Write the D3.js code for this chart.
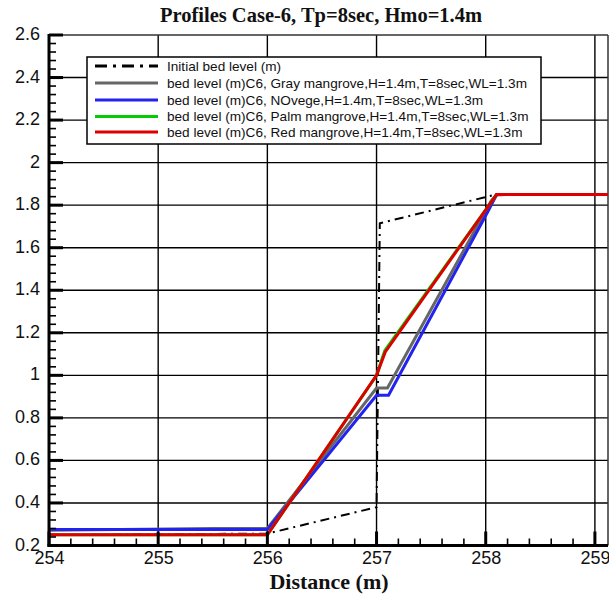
<!DOCTYPE html>
<html><head><meta charset="utf-8">
<script src="https://cdn.jsdelivr.net/npm/d3@7"></script>
<style>body{margin:0;background:#fff;}svg{display:block;}</style>
</head><body>
<svg id="c" width="609" height="594"></svg>
<script>
const title = "Profiles Case-6, Tp=8sec, Hmo=1.4m";
const xLabel = "Distance (m)";
const xTicks = [254, 255, 256, 257, 258, 259];
const yTicks = [0.2, 0.4, 0.6, 0.8, 1, 1.2, 1.4, 1.6, 1.8, 2, 2.2, 2.4, 2.6];
const xDomain = [254, 259.12];
const yDomain = [0.2, 2.6];

const seriesNames = [
  "Initial bed level (m)",
  "bed level (m)C6, Gray mangrove,H=1.4m,T=8sec,WL=1.3m",
  "bed level (m)C6, NOvege,H=1.4m,T=8sec,WL=1.3m",
  "bed level (m)C6, Palm mangrove,H=1.4m,T=8sec,WL=1.3m",
  "bed level (m)C6, Red mangrove,H=1.4m,T=8sec,WL=1.3m"
];
const seriesColors = ["#000000", "#666666", "#2323f0", "#00cc00", "#dd0000"];

const initX = [254, 256, 257, 257.03, 258.07, 259.12];
const initY = [0.25, 0.256, 0.38, 1.715, 1.847, 1.85];
const grayX = [254, 255.5, 256, 257.0, 257.1, 258.05, 258.1, 259.12];
const grayY = [0.272, 0.28, 0.28, 0.94, 0.94, 1.82, 1.85, 1.85];
const novegX = [254, 256, 257.0, 257.11, 258.02, 258.1, 259.12];
const novegY = [0.275, 0.275, 0.906, 0.906, 1.77, 1.85, 1.85];
const palmX = [254, 256, 257.0, 257.075, 258.1, 259.12];
const palmY = [0.25, 0.25, 1.0, 1.116, 1.85, 1.85];
const redX = [254, 256, 257.0, 257.08, 258.1, 259.12];
const redY = [0.25, 0.25, 1.0, 1.11, 1.85, 1.85];

const seriesX = [initX, grayX, novegX, palmX, redX];
const seriesY = [initY, grayY, novegY, palmY, redY];

const L = 49, R = 608, T = 35, B = 545.5;
const svg = d3.select("#c");
const x = d3.scaleLinear().domain(xDomain).range([L, R]);
const y = d3.scaleLinear().domain(yDomain).range([B, T]);

// gridlines
const grid = svg.append("g");
grid.selectAll("line.gx").data(xTicks.slice(1)).join("line")
  .attr("x1", d => x(d)).attr("x2", d => x(d)).attr("y1", T).attr("y2", B)
  .attr("stroke", "#000").attr("stroke-width", 1.4);
grid.selectAll("line.gy").data(yTicks.slice(1, -1)).join("line")
  .attr("x1", L).attr("x2", R).attr("y1", d => y(d)).attr("y2", d => y(d))
  .attr("stroke", "#000").attr("stroke-width", 1.4);

// frame top/right
svg.append("line").attr("x1", L).attr("x2", R).attr("y1", T).attr("y2", T).attr("stroke", "#333").attr("stroke-width", 1.5);
svg.append("line").attr("x1", R).attr("x2", R).attr("y1", T).attr("y2", B).attr("stroke", "#333").attr("stroke-width", 1.5);

// lines
svg.append("clipPath").attr("id", "clip").append("rect").attr("x", L).attr("y", T).attr("width", R - L).attr("height", B - T);
const line = d3.line().x(d => x(d[0])).y(d => y(d[1]));
const lg = svg.append("g").attr("clip-path", "url(#clip)");
seriesX.forEach((xs, i) => {
  const pts = xs.map((v, j) => [v, seriesY[i][j]]);
  lg.append("path").attr("d", line(pts)).attr("fill", "none")
    .attr("stroke", seriesColors[i])
    .attr("stroke-width", i === 0 ? 2 : 3)
    .attr("stroke-linejoin", "miter")
    .attr("stroke-dasharray", i === 0 ? "9,5,2,5" : null);
});

// axes
const xAxis = d3.axisBottom(x).tickValues(xTicks).tickSize(0).tickPadding(6).tickFormat(d3.format("d"));
const gx = svg.append("g").attr("transform", `translate(0,${B})`).call(xAxis);
gx.select(".domain").remove();
gx.selectAll("text").attr("font-family", "Liberation Sans, Arial, sans-serif").attr("font-size", 18).attr("fill", "#111");
const yAxis = d3.axisLeft(y).tickValues(yTicks).tickSize(0).tickPadding(9).tickFormat(d3.format("~g"));
const gy = svg.append("g").attr("transform", `translate(${L},0)`).call(yAxis);
gy.select(".domain").remove();
gy.selectAll("text").attr("font-family", "Liberation Sans, Arial, sans-serif").attr("font-size", 18).attr("fill", "#111").attr("dy", "0.25em");

// ticks (inward)
const xMinor = d3.range(254, 259.13, 0.2).filter(v => Math.abs(v - Math.round(v)) > 1e-6);
svg.append("g").selectAll("line").data(xMinor).join("line")
  .attr("x1", d => x(d)).attr("x2", d => x(d)).attr("y1", B).attr("y2", B - 7)
  .attr("stroke", "#000").attr("stroke-width", 1.6);
svg.append("g").selectAll("line").data(xTicks).join("line")
  .attr("x1", d => x(d)).attr("x2", d => x(d)).attr("y1", B).attr("y2", B - 14)
  .attr("stroke", "#000").attr("stroke-width", 3);
const yMinor = d3.range(0.2, 2.6, 0.04).filter(v => Math.abs(v * 5 - Math.round(v * 5)) > 1e-6);
svg.append("g").selectAll("line").data(yMinor).join("line")
  .attr("x1", L).attr("x2", L + 7).attr("y1", d => y(d)).attr("y2", d => y(d))
  .attr("stroke", "#000").attr("stroke-width", 1.6);
svg.append("g").selectAll("line").data(yTicks).join("line")
  .attr("x1", L).attr("x2", L + 14).attr("y1", d => y(d)).attr("y2", d => y(d))
  .attr("stroke", "#000").attr("stroke-width", 3);

// axis lines
svg.append("line").attr("x1", L).attr("x2", L).attr("y1", T - 1).attr("y2", B + 1.5).attr("stroke", "#000").attr("stroke-width", 3);
svg.append("line").attr("x1", L - 1.5).attr("x2", R).attr("y1", B).attr("y2", B).attr("stroke", "#000").attr("stroke-width", 3);

// legend
const lgX = 87, lgY = 57, lgW = 454, lgH = 87;
const leg = svg.append("g");
leg.append("rect").attr("x", lgX).attr("y", lgY).attr("width", lgW).attr("height", lgH)
  .attr("fill", "#fff").attr("stroke", "#000").attr("stroke-width", 1.5);
const rowY = [66, 83, 100, 116.5, 132];
seriesNames.forEach((n, i) => {
  leg.append("line").attr("x1", 95).attr("x2", 158).attr("y1", rowY[i]).attr("y2", rowY[i])
    .attr("stroke", seriesColors[i]).attr("stroke-width", 3)
    .attr("stroke-dasharray", i === 0 ? "12,6,3,6" : null);
  leg.append("text").attr("x", 167).attr("y", rowY[i]).attr("dy", "0.35em")
    .attr("font-family", "Liberation Sans, Arial, sans-serif").attr("font-size", 13.6)
    .attr("fill", "#111").text(n);
});

// title and x label
svg.append("text").attr("x", 321).attr("y", 22).attr("text-anchor", "middle")
  .attr("font-family", "Liberation Serif, Times New Roman, serif").attr("font-weight", "bold")
  .attr("font-size", 20.5).attr("fill", "#111").text(title);
svg.append("text").attr("x", 329).attr("y", 589).attr("text-anchor", "middle")
  .attr("font-family", "Liberation Serif, Times New Roman, serif").attr("font-weight", "bold")
  .attr("font-size", 22).attr("fill", "#111").text(xLabel);
</script>
</body></html>
